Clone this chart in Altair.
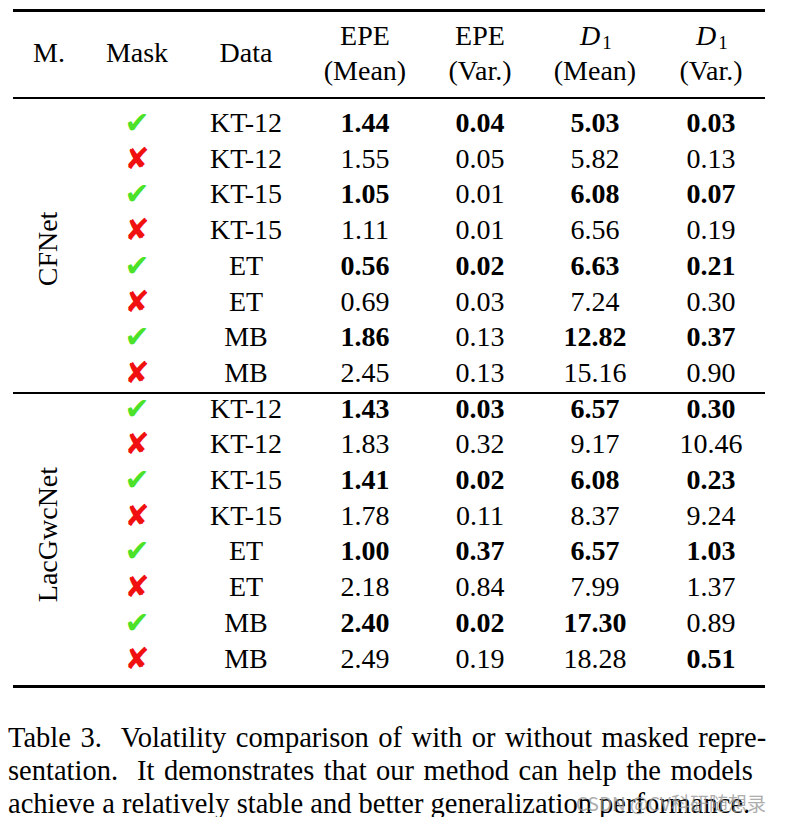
import altair as alt
import pandas as pd

models = ["CFNet", "LacGwcNet"]
mask = [1, 0, 1, 0, 1, 0, 1, 0] * 2
datasets = ["KT-12", "KT-12", "KT-15", "KT-15", "ET", "ET", "MB", "MB"] * 2
epe_mean = [1.44, 1.55, 1.05, 1.11, 0.56, 0.69, 1.86, 2.45,
            1.43, 1.83, 1.41, 1.78, 1.00, 2.18, 2.40, 2.49]
epe_var = [0.04, 0.05, 0.01, 0.01, 0.02, 0.03, 0.13, 0.13,
           0.03, 0.32, 0.02, 0.11, 0.37, 0.84, 0.02, 0.19]
d1_mean = [5.03, 5.82, 6.08, 6.56, 6.63, 7.24, 12.82, 15.16,
           6.57, 9.17, 6.08, 8.37, 6.57, 7.99, 17.30, 18.28]
d1_var = [0.03, 0.13, 0.07, 0.19, 0.21, 0.30, 0.37, 0.90,
          0.30, 10.46, 0.23, 9.24, 1.03, 1.37, 0.89, 0.51]
bold_epe_mean = [1, 0, 1, 0, 1, 0, 1, 0, 1, 0, 1, 0, 1, 0, 1, 0]
bold_epe_var = [1, 0, 0, 0, 1, 0, 0, 0, 1, 0, 1, 0, 1, 0, 1, 0]
bold_d1_mean = [1, 0, 1, 0, 1, 0, 1, 0, 1, 0, 1, 0, 1, 0, 1, 0]
bold_d1_var = [1, 0, 1, 0, 1, 0, 1, 0, 1, 0, 1, 0, 1, 0, 0, 1]
headers_top = ["", "", "", "EPE", "EPE", "D", "D"]
headers_sub = ["", "", "", "", "", "1", "1"]
headers_bottom = ["", "", "", "(Mean)", "(Var.)", "(Mean)", "(Var.)"]
headers_single = ["M.", "Mask", "Data", "", "", "", ""]
caption = [
    "Table 3.  Volatility comparison of with or without masked repre-",
    "sentation.  It demonstrates that our method can help the models",
    "achieve a relatively stable and better generalization performance.",
]
caption_pad = ["\u200a", "\u200a", ""]

SERIF = "Liberation Serif"
FS = 28

xs = alt.Scale(domain=[0, 1, 2, 3, 4, 5, 6], range=[41, 129, 238, 357, 472, 587, 703])
ys = alt.Scale(domain=[0, 15], range=[116, 651.5])

rows = []
for i in range(16):
    rows.append(dict(row=i, col=2, text=datasets[i], bold=0))
    for c, vals, b in [(3, epe_mean, bold_epe_mean), (4, epe_var, bold_epe_var),
                       (5, d1_mean, bold_d1_mean), (6, d1_var, bold_d1_var)]:
        rows.append(dict(row=i, col=c, text=f"{vals[i]:.2f}", bold=b[i]))
cells = pd.DataFrame(rows)

marks = pd.DataFrame([dict(row=i, col=1, ok=mask[i], text="✔" if mask[i] else "✘") for i in range(16)])

groups = pd.DataFrame([dict(row=3.5 + 8 * k, col=0, text=m) for k, m in enumerate(models)])

base = alt.Chart(cells)
X = alt.X("col:Q", scale=xs, axis=None)
Y = alt.Y("row:Q", scale=ys, axis=None)

reg = base.transform_filter("datum.bold == 0").mark_text(
    font=SERIF, fontSize=FS, color="black", baseline="middle", align="center"
).encode(x=X, y=Y, text="text:N")
bld = base.transform_filter("datum.bold == 1").mark_text(
    font=SERIF, fontSize=FS, fontWeight="bold", color="black", baseline="middle", align="center"
).encode(x=X, y=Y, text="text:N")

chk = alt.Chart(marks).mark_text(
    font="DejaVu Sans", fontSize=30, fontWeight="bold", baseline="middle", align="center"
).encode(
    x=X, y=Y, text="text:N",
    color=alt.Color("ok:N", scale=alt.Scale(domain=[1, 0], range=["#4de22a", "#f01010"]), legend=None),
)

grp = alt.Chart(groups).mark_text(
    font=SERIF, fontSize=FS, angle=270, baseline="middle", align="center", color="black"
).encode(x=X, y=Y, text="text:N")

hdr = pd.DataFrame([dict(col=c, top=headers_top[c], sub=headers_sub[c], bot=headers_bottom[c],
                         single=headers_single[c]) for c in range(7)])
h1 = alt.Chart(hdr).transform_filter("datum.single != ''").mark_text(
    font=SERIF, fontSize=FS, baseline="middle", align="center", color="black"
).encode(x=X, y=alt.value(46), text="single:N")
h2 = alt.Chart(hdr).transform_filter("datum.top == 'EPE'").mark_text(
    font=SERIF, fontSize=FS, baseline="middle", align="center", color="black"
).encode(x=X, y=alt.value(29), text="top:N")
h2b = alt.Chart(hdr).transform_filter("datum.top == 'D'").mark_text(
    font=SERIF, fontSize=FS, fontStyle="italic", baseline="middle", align="center", color="black", dx=-5
).encode(x=X, y=alt.value(29), text="top:N")
h2c = alt.Chart(hdr).transform_filter("datum.sub != ''").mark_text(
    font=SERIF, fontSize=19, baseline="middle", align="center", color="black", dx=12, dy=6
).encode(x=X, y=alt.value(29), text="sub:N")
h3 = alt.Chart(hdr).transform_filter("datum.bot != ''").mark_text(
    font=SERIF, fontSize=FS, baseline="middle", align="center", color="black"
).encode(x=X, y=alt.value(64), text="bot:N")

rule_df = pd.DataFrame({"k": [0]})
def hrule(y, w):
    return alt.Chart(rule_df).mark_rule(color="black", strokeWidth=w).encode(
        x=alt.value(5), x2=alt.value(757), y=alt.value(y)
    )

rules = hrule(2.5, 3) + hrule(90, 2) + hrule(385, 2) + hrule(678.5, 3)

cap_text = [line.replace(" ", " " + pad) for line, pad in zip(caption, caption_pad)]
cap_df = pd.DataFrame({"line": [0, 1, 2], "text": cap_text})
cap = alt.Chart(cap_df).mark_text(
    font=SERIF, fontSize=28.5, align="left", baseline="middle", color="black"
).encode(
    x=alt.value(0),
    y=alt.Y("line:Q", scale=alt.Scale(domain=[0, 2], range=[730, 796]), axis=None),
    text="text:N",
)

wm = alt.Chart(pd.DataFrame({"t": ["CSDN @CV科研随想录"]})).mark_text(
    font="Noto Sans CJK SC", fontSize=19, align="left", baseline="middle", color="#9a9a9a", opacity=0.8
).encode(x=alt.value(568), y=alt.value(797), text="t:N")

chart = alt.layer(rules, reg, bld, chk, grp, h1, h2, h2b, h2c, h3, cap, wm).properties(
    width=769, height=809, padding=0, autosize="none"
).configure_view(stroke=None).resolve_scale(color="independent", y="independent", x="independent")

chart.save("out.html", embed_options={"renderer": "svg", "actions": False})
